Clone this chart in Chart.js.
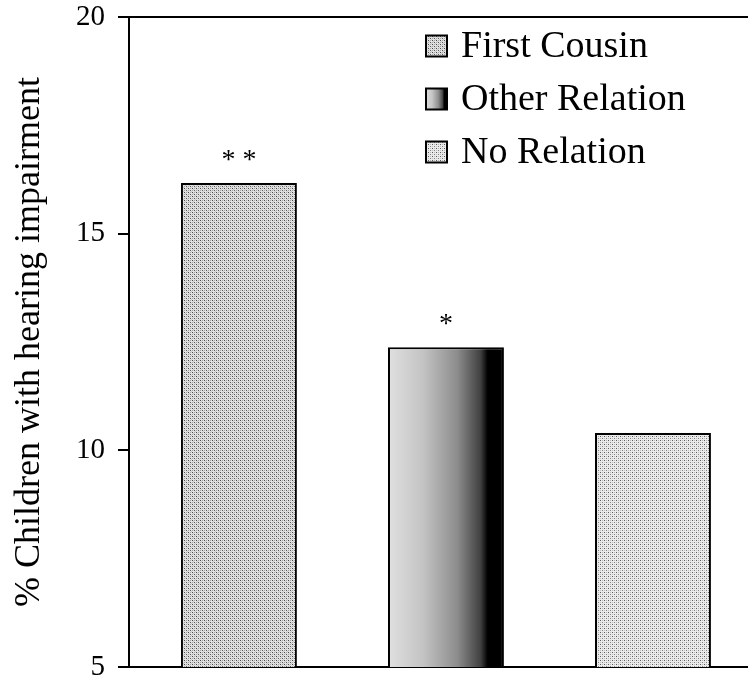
<!DOCTYPE html>
<html><head><meta charset="utf-8">
<script src="https://cdn.jsdelivr.net/npm/chart.js@4.4.0/dist/chart.umd.min.js"></script>
<style>html,body{margin:0;padding:0;background:#fff;overflow:hidden}#wrap{width:748px;height:682px;position:relative}</style>
</head><body><div id="wrap"><canvas id="c" width="748" height="682"></canvas></div>
<script>
const categories = ['First Cousin', 'Other Relation', 'No Relation'];
const values = [16.17, 12.38, 10.4];
const significance = ['**', '*', ''];
const yTicks = [5, 10, 15, 20];
const yTitle = '% Children with hearing impairment';

const FONT = '"Liberation Serif", "Times New Roman", serif';

function makePattern(bg, dots) {
  const t = document.createElement('canvas');
  t.width = 4; t.height = 4;
  const g = t.getContext('2d');
  g.fillStyle = bg; g.fillRect(0, 0, 4, 4);
  dots.forEach(d => { g.fillStyle = d[2]; g.fillRect(d[0], d[1], 1, 1); });
  return g.createPattern(t, 'repeat');
}
const patCousin = makePattern('#e2e2e2', [[0,0,'#4a4a4a'],[2,2,'#5a5a5a'],[2,0,'#a4a4a4'],[0,2,'#a4a4a4'],[1,1,'#c8c8c8'],[3,3,'#c8c8c8']]);
const patNone = makePattern('#ebebeb', [[0,0,'#5a5a5a'],[2,2,'#808080'],[2,0,'#b8b8b8'],[0,2,'#c0c0c0']]);

function relGradient(ctx, x0, x1) {
  const g = ctx.createLinearGradient(x0, 0, x1, 0);
  g.addColorStop(0, '#e0e0e0');
  g.addColorStop(0.3, '#c4c4c4');
  g.addColorStop(0.6, '#8c8c8c');
  g.addColorStop(0.8, '#404040');
  g.addColorStop(0.86, '#000');
  g.addColorStop(1, '#000');
  return g;
}

const BAR_W = 0.56;

function barFill(c) {
  const chart = c.chart;
  const i = c.dataIndex;
  if (i === 0) return patCousin;
  if (i === 2) return patNone;
  const xs = chart.scales && chart.scales.x;
  if (!xs) return '#999';
  return relGradient(chart.ctx, xs.getPixelForValue(i - BAR_W / 2), xs.getPixelForValue(i + BAR_W / 2));
}

const overlay = {
  id: 'overlay',
  afterDraw(chart) {
    const ctx = chart.ctx, a = chart.chartArea;
    const xs = chart.scales.x, ys = chart.scales.y;
    ctx.save();
    // top frame line
    ctx.strokeStyle = '#000'; ctx.lineWidth = 2;
    ctx.beginPath();
    ctx.moveTo(a.left - 11, ys.getPixelForValue(20));
    ctx.lineTo(a.right, ys.getPixelForValue(20));
    ctx.stroke();
    // significance marks
    ctx.fillStyle = '#000';
    ctx.font = '28px ' + FONT;
    ctx.textAlign = 'center'; ctx.textBaseline = 'alphabetic';
    values.forEach((v, i) => {
      const s = significance[i];
      if (!s) return;
      const cx = xs.getPixelForValue(i), by = ys.getPixelForValue(v) - 15;
      const step = 21;
      for (let k = 0; k < s.length; k++) {
        ctx.fillText(s[k], cx + (k - (s.length - 1) / 2) * step, by);
      }
    });
    // legend
    const fills = [patCousin, null, patNone];
    const lx = 426, sz = 21, rowY = [46, 99, 152];
    ctx.font = '38px ' + FONT;
    ctx.textAlign = 'left'; ctx.textBaseline = 'middle';
    categories.forEach((cat, i) => {
      const y = rowY[i];
      ctx.fillStyle = fills[i] || relGradient(ctx, lx, lx + sz);
      ctx.fillRect(lx, y - sz / 2, sz, sz);
      ctx.lineWidth = 2; ctx.strokeStyle = '#000';
      ctx.strokeRect(lx, y - sz / 2, sz, sz);
      ctx.fillStyle = '#000';
      ctx.fillText(cat, lx + sz + 14, y + 1);
    });
    ctx.restore();
  }
};

new Chart(document.getElementById('c'), {
  type: 'bar',
  data: {
    datasets: [{
      label: 'Hearing impairment',
      data: values.map((v, i) => ({ x: i, y: v })),
      backgroundColor: barFill,
      borderColor: '#000',
      borderWidth: { top: 2, left: 2, right: 2, bottom: 0 },
      borderSkipped: 'start',
      barPercentage: BAR_W,
      categoryPercentage: 1
    }]
  },
  options: {
    responsive: false,
    animation: false,
    layout: { padding: { top: 17, bottom: 15, left: 0, right: 0 } },
    plugins: { legend: { display: false }, tooltip: { enabled: false } },
    scales: {
      x: {
        type: 'linear',
        offset: false,
        min: -0.531, max: 2.459,
        afterBuildTicks: (s) => { s.ticks = categories.map((c, i) => ({ value: i })); },
        afterFit: (s) => { s.height = 0; s.paddingLeft = 0; s.paddingRight = 0; },
        grid: { display: false, offset: false },
        border: { display: true, color: '#000', width: 2 },
        ticks: { display: false }
      },
      y: {
        min: 5, max: 20,
        afterBuildTicks: (s) => { s.ticks = yTicks.map(v => ({ value: v })); },
        afterFit: (s) => { s.width = 129; s.paddingTop = 0; s.paddingBottom = 0; },
        grid: { drawOnChartArea: false, drawTicks: true, tickLength: 11, color: '#000', lineWidth: 2 },
        border: { display: true, color: '#000', width: 2 },
        ticks: { color: '#000', font: { family: FONT, size: 29 }, padding: 13 },
        title: { display: true, text: yTitle, color: '#000', font: { family: FONT, size: 36 }, padding: { top: 8, bottom: 0 } }
      }
    }
  },
  plugins: [overlay]
});
</script></body></html>
